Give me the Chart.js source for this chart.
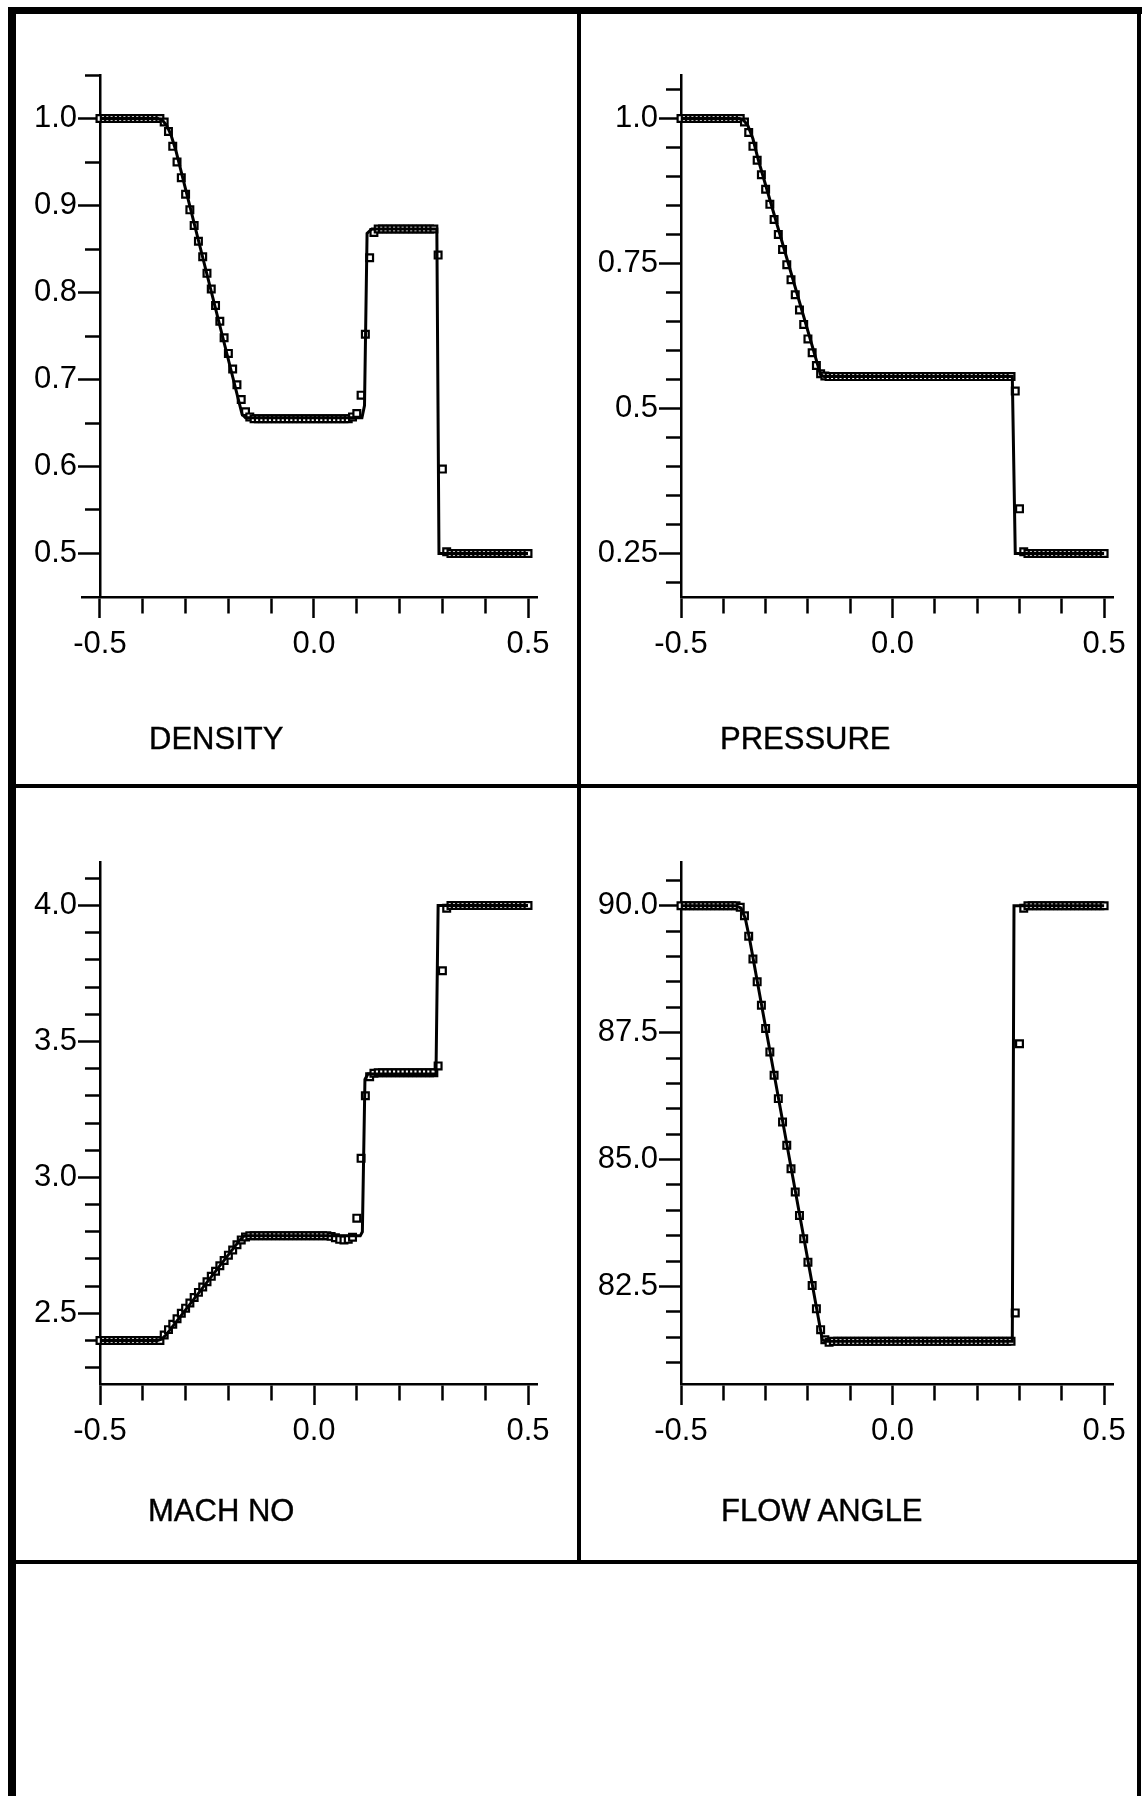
<!DOCTYPE html>
<html lang="en">
<head>
<meta charset="UTF-8">
<title>Density, pressure, Mach number and flow angle</title>
<script src="https://cdn.jsdelivr.net/npm/chart.js"></script>
<style>
  html, body { margin: 0; padding: 0; background: #fff; }
  body { width: 1142px; height: 1796px; position: relative; overflow: hidden; font-family: "Liberation Sans", Arial, sans-serif; }
  .rule { position: absolute; background: #000; }
  canvas { position: absolute; }
  .name { position: absolute; font-size: 31px; line-height: 1; color: #000; white-space: nowrap; -webkit-text-stroke: 0.4px #000; }
</style>
</head>
<body>
<!-- page frame -->
<div class="rule" style="left:8px; top:7px; width:1134px; height:7px"></div>
<div class="rule" style="left:8px; top:7px; width:8px; height:1789px"></div>
<div class="rule" style="left:1137px; top:7px; width:4px; height:1789px"></div>
<div class="rule" style="left:577px; top:7px; width:4px; height:1556px"></div>
<div class="rule" style="left:8px; top:784px; width:1133px; height:4px"></div>
<div class="rule" style="left:8px; top:1560px; width:1133px; height:4px"></div>

<canvas id="density" width="560" height="770" style="left:16px; top:14px; width:560px; height:770px"></canvas>
<canvas id="pressure" width="555" height="770" style="left:581px; top:14px; width:555px; height:770px"></canvas>
<canvas id="mach" width="560" height="770" style="left:16px; top:789px; width:560px; height:770px"></canvas>
<canvas id="flow" width="555" height="770" style="left:581px; top:789px; width:555px; height:770px"></canvas>

<div class="name" style="left:149px; top:723px">DENSITY</div>
<div class="name" style="left:720px; top:723px">PRESSURE</div>
<div class="name" style="left:148px; top:1495px">MACH NO</div>
<div class="name" style="left:721px; top:1495px">FLOW ANGLE</div>

<script>
// cell centres of the computed solution
const gridX = [
  -0.50, -0.49, -0.48, -0.47, -0.46, -0.45, -0.44, -0.43, -0.42, -0.41,
  -0.40, -0.39, -0.38, -0.37, -0.36, -0.35, -0.34, -0.33, -0.32, -0.31,
  -0.30, -0.29, -0.28, -0.27, -0.26, -0.25, -0.24, -0.23, -0.22, -0.21,
  -0.20, -0.19, -0.18, -0.17, -0.16, -0.15, -0.14, -0.13, -0.12, -0.11,
  -0.10, -0.09, -0.08, -0.07, -0.06, -0.05, -0.04, -0.03, -0.02, -0.01,
  0.00, 0.01, 0.02, 0.03, 0.04, 0.05, 0.06, 0.07, 0.08, 0.09,
  0.10, 0.11, 0.12, 0.13, 0.14, 0.15, 0.16, 0.17, 0.18, 0.19,
  0.20, 0.21, 0.22, 0.23, 0.24, 0.25, 0.26, 0.27, 0.28, 0.29,
  0.30, 0.31, 0.32, 0.33, 0.34, 0.35, 0.36, 0.37, 0.38, 0.39,
  0.40, 0.41, 0.42, 0.43, 0.44, 0.45, 0.46, 0.47, 0.48, 0.49,
  0.50
];

// computed values (squares)
const densityNum = [
  1.0, 1.0, 1.0, 1.0, 1.0, 1.0, 1.0, 1.0, 1.0, 1.0,
  1.0, 1.0, 1.0, 1.0, 1.0, 0.996, 0.985, 0.968, 0.950, 0.932,
  0.913, 0.895, 0.877, 0.859, 0.841, 0.822, 0.804, 0.785, 0.767, 0.748,
  0.730, 0.712, 0.694, 0.677, 0.663, 0.657, 0.655, 0.655, 0.655, 0.655,
  0.655, 0.655, 0.655, 0.655, 0.655, 0.655, 0.655, 0.655, 0.655, 0.655,
  0.655, 0.655, 0.655, 0.655, 0.655, 0.655, 0.655, 0.655, 0.655, 0.657,
  0.661, 0.682, 0.752, 0.840, 0.869, 0.873, 0.873, 0.873, 0.873, 0.873,
  0.873, 0.873, 0.873, 0.873, 0.873, 0.873, 0.873, 0.873, 0.873, 0.843,
  0.597, 0.502, 0.500, 0.500, 0.500, 0.500, 0.500, 0.500, 0.500, 0.500,
  0.500, 0.500, 0.500, 0.500, 0.500, 0.500, 0.500, 0.500, 0.500, 0.500,
  0.500
];
const pressureNum = [
  1.0, 1.0, 1.0, 1.0, 1.0, 1.0, 1.0, 1.0, 1.0, 1.0,
  1.0, 1.0, 1.0, 1.0, 1.0, 0.994, 0.976, 0.952, 0.928, 0.903,
  0.878, 0.852, 0.826, 0.800, 0.774, 0.748, 0.722, 0.696, 0.670, 0.645,
  0.620, 0.596, 0.574, 0.560, 0.556, 0.555, 0.555, 0.555, 0.555, 0.555,
  0.555, 0.555, 0.555, 0.555, 0.555, 0.555, 0.555, 0.555, 0.555, 0.555,
  0.555, 0.555, 0.555, 0.555, 0.555, 0.555, 0.555, 0.555, 0.555, 0.555,
  0.555, 0.555, 0.555, 0.555, 0.555, 0.555, 0.555, 0.555, 0.555, 0.555,
  0.555, 0.555, 0.555, 0.555, 0.555, 0.555, 0.555, 0.555, 0.555, 0.530,
  0.327, 0.253, 0.250, 0.250, 0.250, 0.250, 0.250, 0.250, 0.250, 0.250,
  0.250, 0.250, 0.250, 0.250, 0.250, 0.250, 0.250, 0.250, 0.250, 0.250,
  0.250
];
const machNum = [
  2.40, 2.40, 2.40, 2.40, 2.40, 2.40, 2.40, 2.40, 2.40, 2.40,
  2.40, 2.40, 2.40, 2.40, 2.40, 2.42, 2.44, 2.46, 2.48, 2.50,
  2.519, 2.538, 2.558, 2.577, 2.597, 2.616, 2.636, 2.655, 2.675, 2.694,
  2.714, 2.733, 2.752, 2.770, 2.781, 2.785, 2.785, 2.785, 2.785, 2.785,
  2.785, 2.785, 2.785, 2.785, 2.785, 2.785, 2.785, 2.785, 2.785, 2.785,
  2.785, 2.785, 2.785, 2.785, 2.783, 2.778, 2.772, 2.770, 2.772, 2.780,
  2.850, 3.070, 3.300, 3.370, 3.383, 3.385, 3.385, 3.385, 3.385, 3.385,
  3.385, 3.385, 3.385, 3.385, 3.385, 3.385, 3.385, 3.385, 3.385, 3.410,
  3.760, 3.990, 4.0, 4.0, 4.0, 4.0, 4.0, 4.0, 4.0, 4.0,
  4.0, 4.0, 4.0, 4.0, 4.0, 4.0, 4.0, 4.0, 4.0, 4.0,
  4.0
];
const flowNum = [
  90.0, 90.0, 90.0, 90.0, 90.0, 90.0, 90.0, 90.0, 90.0, 90.0,
  90.0, 90.0, 90.0, 90.0, 89.97, 89.80, 89.40, 88.95, 88.50, 88.04,
  87.58, 87.12, 86.66, 86.20, 85.74, 85.28, 84.82, 84.36, 83.90, 83.44,
  82.98, 82.52, 82.06, 81.65, 81.45, 81.40, 81.42, 81.42, 81.42, 81.42,
  81.42, 81.42, 81.42, 81.42, 81.42, 81.42, 81.42, 81.42, 81.42, 81.42,
  81.42, 81.42, 81.42, 81.42, 81.42, 81.42, 81.42, 81.42, 81.42, 81.42,
  81.42, 81.42, 81.42, 81.42, 81.42, 81.42, 81.42, 81.42, 81.42, 81.42,
  81.42, 81.42, 81.42, 81.42, 81.42, 81.42, 81.42, 81.42, 81.42, 81.98,
  87.28, 89.95, 90.0, 90.0, 90.0, 90.0, 90.0, 90.0, 90.0, 90.0,
  90.0, 90.0, 90.0, 90.0, 90.0, 90.0, 90.0, 90.0, 90.0, 90.0,
  90.0
];

// exact solution (solid line)
const densityLineX = [-0.5, -0.364, -0.354, -0.344, -0.334, -0.322, -0.168, -0.16, 0.112, 0.118, 0.124, 0.135, 0.287, 0.292, 0.5];
const densityLineY = [1.0, 1.0, 0.998, 0.992, 0.981, 0.962, 0.660, 0.656, 0.656, 0.670, 0.868, 0.873, 0.873, 0.500, 0.500];
const pressureLineX = [-0.5, -0.362, -0.352, -0.342, -0.33, -0.317, -0.17, -0.162, 0.283, 0.29, 0.5];
const pressureLineY = [1.0, 1.0, 0.997, 0.988, 0.965, 0.928, 0.558, 0.555, 0.555, 0.250, 0.250];
const machLineX = [-0.5, -0.366, -0.356, -0.346, -0.173, -0.163, 0.108, 0.113, 0.119, 0.126, 0.285, 0.29, 0.5];
const machLineY = [2.40, 2.40, 2.405, 2.42, 2.77, 2.785, 2.785, 2.80, 3.36, 3.38, 3.38, 4.0, 4.0];
const flowLineX = [-0.5, -0.37, -0.358, -0.348, -0.338, -0.166, -0.158, 0.283, 0.287, 0.5];
const flowLineY = [90.0, 90.0, 89.95, 89.75, 89.35, 81.45, 81.42, 81.42, 90.0, 90.0];

// ticks: every tick mark, and the text beside it ('' = unlabelled)
const xTicks = [-0.5, -0.4, -0.3, -0.2, -0.1, 0.0, 0.1, 0.2, 0.3, 0.4, 0.5];
const xTickText = ['-0.5', '', '', '', '', '0.0', '', '', '', '', '0.5'];

const densityTicks = [0.5, 0.55, 0.6, 0.65, 0.7, 0.75, 0.8, 0.85, 0.9, 0.95, 1.0, 1.05];
const densityTickText = ['0.5', '', '0.6', '', '0.7', '', '0.8', '', '0.9', '', '1.0', ''];
const pressureTicks = [0.2, 0.25, 0.3, 0.35, 0.4, 0.45, 0.5, 0.55, 0.6, 0.65, 0.7, 0.75, 0.8, 0.85, 0.9, 0.95, 1.0, 1.05];
const pressureTickText = ['', '0.25', '', '', '', '', '0.5', '', '', '', '', '0.75', '', '', '', '', '1.0', ''];
const machTicks = [2.3, 2.4, 2.5, 2.6, 2.7, 2.8, 2.9, 3.0, 3.1, 3.2, 3.3, 3.4, 3.5, 3.6, 3.7, 3.8, 3.9, 4.0, 4.1];
const machTickText = ['', '', '2.5', '', '', '', '', '3.0', '', '', '', '', '3.5', '', '', '', '', '4.0', ''];
const flowTicks = [81.0, 81.5, 82.0, 82.5, 83.0, 83.5, 84.0, 84.5, 85.0, 85.5, 86.0, 86.5, 87.0, 87.5, 88.0, 88.5, 89.0, 89.5, 90.0, 90.5];
const flowTickText = ['', '', '', '82.5', '', '', '', '', '85.0', '', '', '', '', '87.5', '', '', '', '', '90.0', ''];

const FONT = '"Liberation Sans", Arial, Helvetica, sans-serif';

function drawPanel(id, lineX, lineY, numY, yTicks, yText, yMin, yMax, xMin, labelWidth, labelPad, pad) {
    new Chart(document.getElementById(id), {
        type: 'scatter',
        data: {
            datasets: [
                {
                    data: lineX.map((x, i) => ({ x: x, y: lineY[i] })),
                    xAxisID: 'x',
                    yAxisID: 'y',
                    showLine: true,
                    borderColor: '#000',
                    borderWidth: 3,
                    pointRadius: 0,
                    order: 0,
                    clip: false
                },
                {
                    data: gridX.map((x, i) => ({ x: x, y: numY[i] })),
                    xAxisID: 'x',
                    yAxisID: 'y',
                    showLine: false,
                    pointStyle: 'rect',
                    pointRadius: 4.8,
                    pointBorderWidth: 2.2,
                    pointBorderColor: '#000',
                    pointBackgroundColor: '#fff',
                    order: 1,
                    clip: false
                }
            ]
        },
        options: {
            responsive: false,
            animation: false,
            events: [],
            layout: { padding: pad },
            plugins: { legend: { display: false }, tooltip: { enabled: false } },
            scales: {
                x: {
                    type: 'linear',
                    position: 'bottom',
                    min: xMin,
                    max: 0.521,
                    afterBuildTicks: s => { s.ticks = xTicks.map(v => ({ value: v })); },
                    afterFit: s => { s.height = 60; },
                    border: { display: true, color: '#000', width: 2.5 },
                    grid: {
                        drawOnChartArea: false,
                        tickLength: 21,
                        tickWidth: 2.5,
                        tickColor: '#000',
                        tickBorderDash: c => xTickText[c.index] ? [] : [15, 100]
                    },
                    ticks: {
                        autoSkip: false,
                        maxRotation: 0,
                        padding: 8,
                        color: '#000',
                        font: { family: FONT, size: 31 },
                        callback: (v, i) => xTickText[i]
                    }
                },
                // axis line and tick marks, standing at x = -0.5
                y: {
                    type: 'linear',
                    position: { x: -0.5 },
                    min: yMin,
                    max: yMax,
                    afterBuildTicks: s => { s.ticks = yTicks.map(v => ({ value: v })); },
                    border: { display: true, color: '#000', width: 2.5 },
                    grid: {
                        drawOnChartArea: false,
                        tickLength: 21,
                        tickWidth: 2.5,
                        tickColor: '#000',
                        tickBorderDash: c => yText[c.index] ? [] : [14, 100]
                    },
                    ticks: { display: false }
                },
                // tick labels only
                yl: {
                    type: 'linear',
                    axis: 'y',
                    position: 'left',
                    min: yMin,
                    max: yMax,
                    afterBuildTicks: s => { s.ticks = yTicks.map(v => ({ value: v })); },
                    afterFit: s => { s.width = labelWidth; },
                    border: { display: false },
                    grid: { display: false, drawTicks: false },
                    ticks: {
                        autoSkip: false,
                        padding: labelPad,
                        color: '#000',
                        font: { family: FONT, size: 31 },
                        callback: (v, i) => yText[i]
                    }
                }
            }
        }
    });
}

drawPanel('density', densityLineX, densityLineY, densityNum, densityTicks, densityTickText,
    0.45, 1.05, -0.542, 66, 5, { left: 0, right: 39, top: 61, bottom: 127 });
drawPanel('pressure', pressureLineX, pressureLineY, pressureNum, pressureTicks, pressureTickText,
    0.175, 1.075, -0.5, 100, 23, { left: 0, right: 23, top: 61, bottom: 127 });
drawPanel('mach', machLineX, machLineY, machNum, machTicks, machTickText,
    2.24, 4.16, -0.5, 84, 23, { left: 0, right: 39, top: 73, bottom: 115 });
drawPanel('flow', flowLineX, flowLineY, flowNum, flowTicks, flowTickText,
    80.58, 90.86, -0.5, 100, 23, { left: 0, right: 23, top: 73, bottom: 115 });
</script>
</body>
</html>
